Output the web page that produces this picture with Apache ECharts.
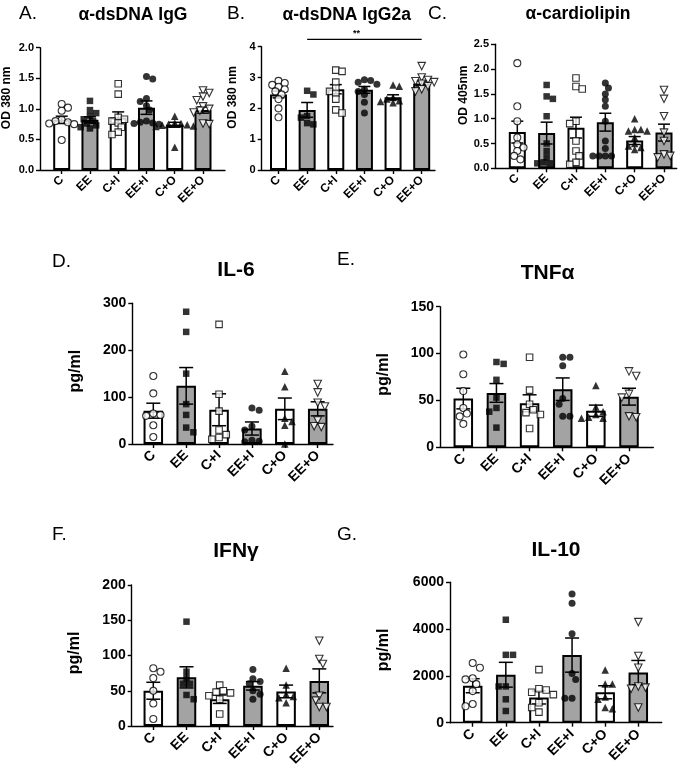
<!DOCTYPE html>
<html><head><meta charset="utf-8">
<script src="https://cdn.jsdelivr.net/npm/echarts@6/dist/echarts.min.js"></script>
<style>html,body{margin:0;padding:0;background:#fff}#c{width:685px;height:772px}</style>
</head><body><div id="c"></div><script>
// ---------- data ----------
const groups = ['C', 'EE', 'C+I', 'EE+I', 'C+O', 'EE+O'];

const aMean = [0.82, 0.82, 0.86, 1.02, 0.74, 0.98];
const aSem  = [0.06, 0.05, 0.09, 0.11, 0.04, 0.05];
const aPoints = [
  [1.08, 1.02, 0.97, 0.82, 0.80, 0.78, 0.76, 0.75, 0.49],
  [1.13, 0.98, 0.93, 0.88, 0.83, 0.80, 0.76, 0.73, 0.70, 0.68],
  [1.41, 1.24, 0.86, 0.83, 0.80, 0.77, 0.70, 0.62, 0.58],
  [1.53, 1.49, 1.17, 1.12, 1.05, 0.98, 0.80, 0.78, 0.77, 0.76, 0.75],
  [0.88, 0.77, 0.76, 0.75, 0.74, 0.73, 0.72, 0.71, 0.37],
  [1.30, 1.26, 1.20, 1.14, 1.04, 1.00, 0.97, 0.94, 0.76, 0.75]
];

const bMean = [2.45, 1.95, 2.62, 2.60, 2.36, 2.81];
const bSem  = [0.11, 0.24, 0.15, 0.11, 0.08, 0.08];
const bPoints = [
  [2.89, 2.82, 2.76, 2.70, 2.62, 2.55, 2.45, 2.30, 2.00, 1.71],
  [2.57, 2.45, 1.75, 1.70, 1.52, 1.48],
  [3.24, 3.20, 2.85, 2.65, 2.55, 2.48, 2.30, 1.95, 1.85],
  [2.93, 2.90, 2.85, 2.78, 2.62, 2.55, 2.45, 2.20, 1.85],
  [2.76, 2.72, 2.35, 2.30, 2.25, 2.22, 2.18],
  [3.37, 3.00, 2.92, 2.88, 2.85, 2.80, 2.72, 2.62, 2.55]
];
const bSignif = [{from: 1, to: 5, level: 4.24, text: '**'}];

const cMean = [0.73, 0.71, 0.82, 0.93, 0.56, 0.72];
const cSem  = [0.22, 0.22, 0.21, 0.18, 0.08, 0.17];
const cPoints = [
  [2.12, 1.25, 0.95, 0.62, 0.48, 0.42, 0.35, 0.25, 0.18],
  [1.68, 1.45, 1.40, 1.05, 0.50, 0.35, 0.22, 0.12, 0.10, 0.10],
  [1.82, 1.65, 1.60, 0.95, 0.90, 0.55, 0.35, 0.25, 0.12, 0.08],
  [1.72, 1.62, 1.50, 1.38, 1.25, 0.95, 0.55, 0.40, 0.25, 0.25, 0.25, 0.25],
  [1.00, 0.78, 0.78, 0.75, 0.75, 0.62, 0.50, 0.45, 0.42, 0.38],
  [1.58, 1.40, 1.05, 0.72, 0.55, 0.28, 0.25, 0.22]
];

const dMean = [71, 124, 73, 33, 75, 75];
const dSem  = [16, 39, 34, 14, 23, 15];
const dPoints = [
  [145, 108, 65, 62, 60, 40, 15],
  [282, 239, 150, 85, 62, 35, 25],
  [255, 106, 70, 30, 20, 14, 10],
  [77, 72, 38, 30, 8, 6, 5],
  [155, 122, 55, 48, 40, 0],
  [128, 110, 88, 80, 50, 38, 36]
];

const eMean = [52, 58, 47, 62, 39, 54];
const eSem  = [11, 10, 9, 12, 6, 9];
const ePoints = [
  [99, 78, 60, 42, 36, 33, 25],
  [91, 89, 72, 53, 42, 38, 21],
  [96, 61, 46, 40, 37, 35, 20],
  [96, 96, 87, 52, 46, 33, 33],
  [66, 43, 38, 35, 32, 31, 31],
  [81, 76, 57, 53, 33, 32]
];

const fMean = [50, 69, 38, 57, 49, 64];
const fSem  = [12, 15, 6, 6, 9, 17];
const fPoints = [
  [82, 77, 68, 50, 32, 10],
  [148, 77, 68, 60, 60, 44, 38],
  [58, 50, 48, 47, 43, 38, 17],
  [80, 67, 63, 60, 50, 45, 38],
  [82, 58, 45, 42, 40, 33],
  [121, 95, 88, 43, 36, 27, 27]
];

const gMean = [1580, 2050, 1080, 2890, 1300, 2140];
const gSem  = [300, 530, 280, 730, 280, 520];
const gPoints = [
  [2550, 2350, 1900, 1850, 1650, 1350, 800, 700],
  [4400, 2900, 2900, 1550, 1550, 1000, 500],
  [2270, 1450, 1400, 1300, 1200, 850, 650, 450],
  [5500, 5100, 3800, 2100, 1850, 1050, 1050],
  [2250, 1650, 1650, 1100, 1000, 650, 600],
  [4300, 2850, 2350, 1550, 1500, 1450, 650]
];

// ---------- layout / style ----------
const FONT = 'Liberation Sans, Arial, sans-serif';
const GRAY = '#a3a3a3';
const symbolDefs = [
  {symbol: 'circle', fill: '#fff', size: 7},
  {symbol: 'rect', fill: '#000', size: 6.5},
  {symbol: 'rect', fill: '#fff', size: 6.5},
  {symbol: 'circle', fill: '#000', size: 7},
  {symbol: 'triangle', fill: '#000', size: 7.5},
  {symbol: 'triangle', fill: '#fff', size: 7.5, rotate: 180}
];

const panels = [
  {letter: 'A.', title: 'α-dsDNA IgG', yName: 'OD 380 nm', mean: aMean, sem: aSem, points: aPoints, yMax: 2, yInt: 0.5, dec: 1, big: false,
   L: {axisX: 40, first: 61.7, last: 203, right: 225, top: 47.7, bottom: 170, tx: 133, ty: 15, lx: 19, ly: 14, nameGap: 27}},
  {letter: 'B.', title: 'α-dsDNA IgG2a', yName: 'OD 380 nm', mean: bMean, sem: bSem, points: bPoints, yMax: 4, yInt: 1, dec: 0, big: false, signif: bSignif,
   L: {axisX: 261.7, first: 278.5, last: 421.7, right: 435, top: 46.7, bottom: 170, tx: 346.7, ty: 15, lx: 227, ly: 14, nameGap: 23}},
  {letter: 'C.', title: 'α-cardiolipin', yName: 'OD 405nm', mean: cMean, sem: cSem, points: cPoints, yMax: 2.5, yInt: 0.5, dec: 1, big: false,
   L: {axisX: 495, first: 517.3, last: 664, right: 676.7, top: 44.3, bottom: 168.3, tx: 578, ty: 14, lx: 428, ly: 14, nameGap: 25}},
  {letter: 'D.', title: 'IL-6', yName: 'pg/ml', mean: dMean, sem: dSem, points: dPoints, yMax: 300, yInt: 100, dec: 0, big: true,
   L: {axisX: 132.3, first: 153.3, last: 317.7, right: 333, top: 303.3, bottom: 444, tx: 236, ty: 270.5, lx: 52, ly: 261.7, nameGap: 49}},
  {letter: 'E.', title: 'TNFα', yName: 'pg/ml', mean: eMean, sem: eSem, points: ePoints, yMax: 150, yInt: 50, dec: 0, big: true,
   L: {axisX: 440, first: 463.3, last: 629, right: 653.3, top: 306.7, bottom: 447.3, tx: 547.5, ty: 273, lx: 337, ly: 260, nameGap: 48}},
  {letter: 'F.', title: 'IFNγ', yName: 'pg/ml', mean: fMean, sem: fSem, points: fPoints, yMax: 200, yInt: 50, dec: 0, big: true,
   L: {axisX: 131.7, first: 153.3, last: 319.3, right: 333, top: 585, bottom: 726, tx: 236, ty: 551, lx: 52, ly: 535, nameGap: 49}},
  {letter: 'G.', title: 'IL-10', yName: 'pg/ml', mean: gMean, sem: gSem, points: gPoints, yMax: 6000, yInt: 2000, dec: 0, big: true,
   L: {axisX: 450, first: 472.7, last: 638.3, right: 661.7, top: 582.3, bottom: 722.7, tx: 556, ty: 550, lx: 337, ly: 535, nameGap: 58}}
];

// beeswarm offsets (pixels) so that points overlap only a little
function swarm(vals, pxPerUnit, d) {
  const order = vals.map((v, i) => i).sort((a, b) => vals[b] - vals[a]);
  const placed = [];
  const off = new Array(vals.length).fill(0);
  const step = d * 0.6;
  let lastSign = -1;
  for (const i of order) {
    const y = vals[i] * pxPerUnit;
    let chosen = 0;
    for (let k = 0; k < 30; k++) {
      const cands = k === 0 ? [0] : [k * step * -lastSign, k * step * lastSign];
      let ok = null;
      for (const c of cands) {
        if (placed.every(p => Math.hypot(p.x - c, p.y - y) >= d)) { ok = c; break; }
      }
      if (ok !== null) { chosen = ok; break; }
    }
    if (chosen !== 0) lastSign = Math.sign(chosen);
    placed.push({x: chosen, y});
    off[i] = chosen;
  }
  return off;
}

const option = {animation: false, backgroundColor: '#fff', textStyle: {fontFamily: FONT}, title: [], grid: [], xAxis: [], yAxis: [], series: []};
const lineStyle = {color: '#000', width: 1.4};

panels.forEach((p, pi) => {
  const L = p.L;
  const spacing = (L.last - L.first) / 5;
  const xmin = -(L.first - L.axisX) / spacing;
  const xmax = 5 + (L.right - L.last) / spacing;
  const plotH = L.bottom - L.top;
  const pxPerUnit = plotH / p.yMax;
  const big = p.big;

  option.title.push({text: p.title, left: L.tx, top: L.ty, padding: 0, textAlign: 'center', textVerticalAlign: 'middle',
    textStyle: {fontFamily: FONT, fontWeight: 'bold', fontSize: big ? 21 : 17.5, color: '#000'}});
  option.title.push({text: p.letter, left: L.lx, top: L.ly, padding: 0, textAlign: 'left', textVerticalAlign: 'middle',
    textStyle: {fontFamily: FONT, fontWeight: 'normal', fontSize: 19, color: '#000'}});

  option.grid.push({left: L.axisX, top: L.top, width: L.right - L.axisX, height: plotH});
  option.xAxis.push({
    gridIndex: pi, type: 'value', min: xmin, max: xmax,
    axisLine: {show: true, onZero: false, lineStyle},
    axisTick: {show: true, customValues: [0, 1, 2, 3, 4, 5], length: 4, lineStyle},
    axisLabel: {show: true, customValues: [0, 1, 2, 3, 4, 5], formatter: v => groups[Math.round(v)] || '',
      rotate: 45, fontFamily: FONT, fontWeight: 'bold', fontSize: big ? 14 : 12, color: '#000', margin: big ? 9 : 8},
    splitLine: {show: false}
  });
  option.yAxis.push({
    gridIndex: pi, type: 'value', min: 0, max: p.yMax, interval: p.yInt,
    axisLine: {show: true, onZero: false, lineStyle},
    axisTick: {show: true, length: 4, lineStyle},
    axisLabel: {formatter: v => v.toFixed(p.dec), fontFamily: FONT, fontWeight: 'bold', fontSize: big ? 14 : 11, color: '#000', margin: 6},
    splitLine: {show: false},
    name: p.yName, nameLocation: 'middle', nameGap: L.nameGap,
    nameTextStyle: {fontFamily: FONT, fontWeight: 'bold', fontSize: big ? 16 : 12, color: '#000', padding: big ? [0, 0, 0, 5] : [0, 0, 0, 22]}
  });

  // bars
  option.series.push({
    type: 'bar', xAxisIndex: pi, yAxisIndex: pi, barWidth: big ? 19.5 : 17, z: 2,
    itemStyle: {borderColor: '#000', borderWidth: 2},
    data: p.mean.map((m, i) => ({value: [i, m], itemStyle: {color: i % 2 ? GRAY : '#fff'}}))
  });
  // error bars (mean ± SEM)
  const capW = big ? 14 : 12;
  option.series.push({
    type: 'custom', xAxisIndex: pi, yAxisIndex: pi, z: 3,
    data: p.mean.map((m, i) => [i, m, p.sem[i]]),
    renderItem: (params, api) => {
      const x = api.value(0), m = api.value(1), s = api.value(2);
      const t = api.coord([x, m + s]), b = api.coord([x, m - s]);
      const st = {stroke: '#000', lineWidth: 1.5};
      return {type: 'group', children: [
        {type: 'line', shape: {x1: t[0], y1: t[1], x2: b[0], y2: b[1]}, style: st},
        {type: 'line', shape: {x1: t[0] - capW / 2, y1: t[1], x2: t[0] + capW / 2, y2: t[1]}, style: st},
        {type: 'line', shape: {x1: b[0] - capW / 2, y1: b[1], x2: b[0] + capW / 2, y2: b[1]}, style: st}
      ]};
    }
  });
  // individual points
  const pts = [];
  p.points.forEach((vals, gi) => {
    const sd = symbolDefs[gi];
    const off = swarm(vals, pxPerUnit, big ? 6 : 5.2);
    vals.forEach((v, k) => {
      pts.push({
        value: [gi + off[k] / spacing, v],
        symbol: sd.symbol, symbolSize: sd.size, symbolRotate: sd.rotate || 0,
        itemStyle: {color: sd.fill, borderColor: '#000', borderWidth: sd.fill === '#fff' ? 1.1 : 0}
      });
    });
  });
  option.series.push({type: 'scatter', xAxisIndex: pi, yAxisIndex: pi, z: 4, data: pts});

  // significance annotation
  if (p.signif) {
    option.series.push({
      type: 'custom', xAxisIndex: pi, yAxisIndex: pi, z: 5, clip: false,
      data: p.signif.map(s => [s.from, s.to, s.level]),
      renderItem: (params, api) => {
        const a = api.coord([api.value(0), api.value(2)]);
        const b = api.coord([api.value(1), api.value(2)]);
        return {type: 'group', children: [
          {type: 'line', shape: {x1: a[0], y1: a[1], x2: b[0], y2: b[1]}, style: {stroke: '#000', lineWidth: 1.3}},
          {type: 'text', x: (a[0] + b[0]) / 2 - 8, y: a[1] - 1, style: {text: p.signif[params.dataIndex].text, font: 'bold 9px ' + FONT, fill: '#000', align: 'center', verticalAlign: 'bottom'}}
        ]};
      }
    });
  }
});

const chart = echarts.init(document.getElementById('c'), null, {renderer: 'canvas'});
chart.setOption(option);
</script></body></html>
